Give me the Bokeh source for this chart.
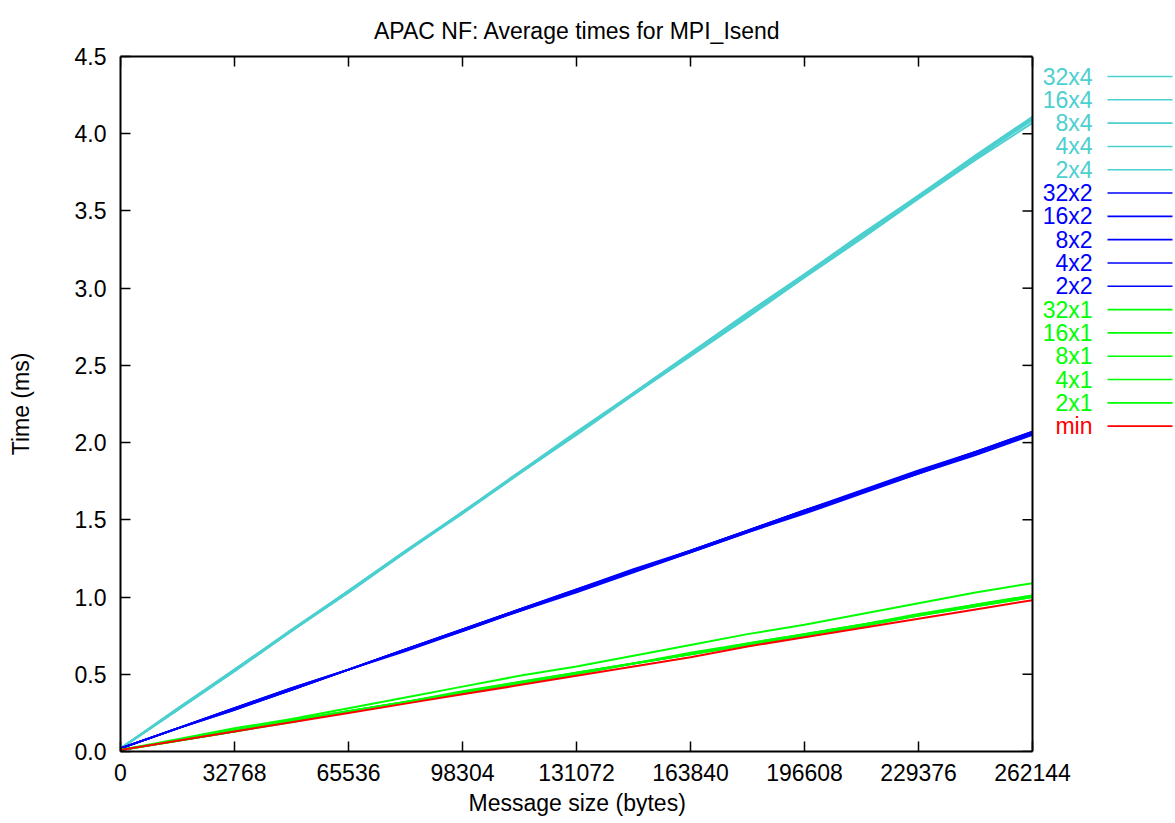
import math
from bokeh.plotting import figure
from bokeh.models import (Range1d, FixedTicker, NumeralTickFormatter, ColumnDataSource,
                          LinearAxis, Span, Title)
from bokeh.embed import file_html
from bokeh.resources import INLINE
from bokeh.core.properties import value

# ---------------- data ----------------
sizes = [0, 16384, 32768, 49152, 65536, 81920, 98304, 114688, 131072,
         147456, 163840, 180224, 196608, 212992, 229376, 245760, 262144]

series_names = ["32x4", "16x4", "8x4", "4x4", "2x4",
                "32x2", "16x2", "8x2", "4x2", "2x2",
                "32x1", "16x1", "8x1", "4x1", "2x1", "min"]

t_32x4 = [0.02, 0.27, 0.53, 0.78, 1.04, 1.30, 1.55, 1.81, 2.06, 2.32, 2.58, 2.83, 3.09, 3.34, 3.60, 3.85, 4.10]
t_16x4 = [0.02, 0.27, 0.52, 0.78, 1.03, 1.29, 1.55, 1.80, 2.06, 2.31, 2.57, 2.82, 3.08, 3.33, 3.59, 3.84, 4.09]
t_8x4  = [0.02, 0.28, 0.53, 0.79, 1.04, 1.30, 1.55, 1.81, 2.07, 2.32, 2.58, 2.84, 3.09, 3.35, 3.60, 3.86, 4.11]
t_4x4  = [0.02, 0.27, 0.53, 0.78, 1.04, 1.29, 1.55, 1.80, 2.06, 2.32, 2.57, 2.83, 3.08, 3.34, 3.59, 3.85, 4.10]
t_2x4  = [0.02, 0.27, 0.52, 0.78, 1.03, 1.29, 1.54, 1.80, 2.05, 2.31, 2.56, 2.81, 3.07, 3.32, 3.58, 3.83, 4.07]

t_32x2 = [0.02, 0.15, 0.28, 0.41, 0.53, 0.66, 0.79, 0.92, 1.05, 1.18, 1.30, 1.43, 1.56, 1.69, 1.82, 1.94, 2.07]
t_16x2 = [0.02, 0.15, 0.28, 0.40, 0.53, 0.66, 0.79, 0.92, 1.04, 1.17, 1.30, 1.43, 1.56, 1.68, 1.81, 1.94, 2.07]
t_8x2  = [0.02, 0.15, 0.28, 0.41, 0.53, 0.66, 0.79, 0.92, 1.05, 1.17, 1.30, 1.43, 1.56, 1.68, 1.81, 1.94, 2.06]
t_4x2  = [0.02, 0.15, 0.27, 0.40, 0.53, 0.66, 0.78, 0.91, 1.04, 1.17, 1.29, 1.42, 1.55, 1.68, 1.80, 1.93, 2.06]
t_2x2  = [0.02, 0.15, 0.27, 0.40, 0.53, 0.65, 0.78, 0.91, 1.03, 1.16, 1.29, 1.42, 1.54, 1.67, 1.80, 1.92, 2.05]

t_32x1 = [0.01, 0.08, 0.15, 0.21, 0.28, 0.35, 0.42, 0.49, 0.55, 0.62, 0.69, 0.76, 0.82, 0.89, 0.96, 1.03, 1.09]
t_16x1 = [0.01, 0.07, 0.14, 0.20, 0.26, 0.32, 0.39, 0.45, 0.51, 0.57, 0.64, 0.70, 0.76, 0.82, 0.89, 0.95, 1.01]
t_8x1  = [0.01, 0.07, 0.13, 0.20, 0.26, 0.32, 0.38, 0.45, 0.51, 0.57, 0.63, 0.70, 0.76, 0.82, 0.88, 0.95, 1.01]
t_4x1  = [0.01, 0.07, 0.13, 0.19, 0.26, 0.32, 0.38, 0.44, 0.50, 0.57, 0.63, 0.69, 0.75, 0.81, 0.88, 0.94, 1.00]
t_2x1  = [0.01, 0.07, 0.13, 0.20, 0.26, 0.32, 0.38, 0.44, 0.51, 0.57, 0.63, 0.69, 0.76, 0.82, 0.88, 0.94, 1.00]
t_min  = [0.01, 0.07, 0.13, 0.19, 0.25, 0.31, 0.37, 0.43, 0.49, 0.55, 0.61, 0.68, 0.74, 0.80, 0.86, 0.92, 0.98]

series_values = [t_32x4, t_16x4, t_8x4, t_4x4, t_2x4,
                 t_32x2, t_16x2, t_8x2, t_4x2, t_2x2,
                 t_32x1, t_16x1, t_8x1, t_4x1, t_2x1, t_min]

x_ticks = [0, 32768, 65536, 98304, 131072, 163840, 196608, 229376, 262144]
y_ticks = [0.0, 0.5, 1.0, 1.5, 2.0, 2.5, 3.0, 3.5, 4.0, 4.5]

# ---------------- styles / layout ----------------
CYAN, BLUE, GREEN, RED = "#4ccfcf", "#0000ff", "#00ff00", "#ff0000"
series_colors = [CYAN] * 5 + [BLUE] * 5 + [GREEN] * 5 + [RED]
FONT = "Liberation Sans"
FS = "23px"

W, H = 1175, 823
BL, BT, BB = 120, 56, 72
PLOT_W = 912            # pixel width of the data box (the key sits to its right)
FRAME_W = W - BL        # canvas frame runs to the right edge, to host the key
TITLE_W, XLAB_W = 405, 216   # rendered widths of the two centred texts (px)

XMAX, YMAX = x_ticks[-1], y_ticks[-1]
x_end = XMAX * FRAME_W / PLOT_W

p = figure(width=W, height=H, output_backend="svg", toolbar_location=None,
           x_range=Range1d(0, x_end), y_range=Range1d(0, YMAX),
           min_border_left=BL, min_border_right=0, min_border_top=BT, min_border_bottom=BB)
p.outline_line_color = None
p.grid.visible = False

# main title, centred over the data box
p.title = Title(text="APAC NF: Average times for MPI_Isend", align="left",
                offset=PLOT_W / 2 - TITLE_W / 2, text_font=FONT, text_font_size=FS,
                text_font_style="normal", text_color="black", standoff=26)

for ax in (p.xaxis[0], p.yaxis[0]):
    ax.axis_line_width = 2
    ax.axis_line_color = "black"
    ax.major_tick_in = 10
    ax.major_tick_out = 0
    ax.major_tick_line_width = 1.5
    ax.minor_tick_in = 0
    ax.minor_tick_out = 0
    ax.major_label_text_font = FONT
    ax.major_label_text_font_size = FS
    ax.major_label_text_color = "black"
    ax.axis_label_text_font = FONT
    ax.axis_label_text_font_size = FS
    ax.axis_label_text_font_style = "normal"
    ax.axis_label_text_color = "black"

p.xaxis[0].bounds = (0, XMAX)
p.xaxis[0].ticker = FixedTicker(ticks=x_ticks)
p.xaxis[0].formatter = NumeralTickFormatter(format="0")
p.xaxis[0].major_label_standoff = 12

# x-axis title, centred under the data box
xtitle = Title(text="Message size (bytes)", align="left", offset=PLOT_W / 2 - XLAB_W / 2,
               text_font=FONT, text_font_size=FS, text_font_style="normal",
               text_color="black", standoff=9)
p.add_layout(xtitle, "below")

p.yaxis[0].ticker = FixedTicker(ticks=y_ticks)
p.yaxis[0].formatter = NumeralTickFormatter(format="0.0")
p.yaxis[0].axis_label = "Time (ms)"
p.yaxis[0].major_label_standoff = 14
p.yaxis[0].axis_label_standoff = 38

# top border line (no ticks / labels on the axis itself)
top = LinearAxis(ticker=FixedTicker(ticks=[]), bounds=(0, XMAX))
top.axis_line_width = 2
top.axis_line_color = "black"
top.major_tick_in = 0
top.major_tick_out = 0
top.minor_tick_in = 0
top.minor_tick_out = 0
p.add_layout(top, "above")

# right border of the data box
p.add_layout(Span(location=XMAX, dimension="height", line_color="black", line_width=2))

# mirrored inward ticks on the top and right borders
p.ray(x=x_ticks, y=[YMAX] * len(x_ticks), length=10, length_units="screen",
      angle=-math.pi / 2, line_color="black", line_width=1.5)
p.ray(x=[XMAX] * len(y_ticks), y=y_ticks, length=10, length_units="screen",
      angle=math.pi, line_color="black", line_width=1.5)

for name, vals, col in zip(series_names, series_values, series_colors):
    p.line(sizes, vals, line_color=col, line_width=2)

# ---------------- key (right of the data box) ----------------
# extra ranges mapped so that one unit = one canvas pixel
p.extra_x_ranges["key"] = Range1d(BL, W)
p.extra_y_ranges["key"] = Range1d(H - BB, BT)

first_y, step = 76.0, 23.31
n = len(series_names)
ys = [first_y + i * step for i in range(n)]
src = ColumnDataSource(dict(name=series_names, y=ys, col=series_colors,
                            tx=[1092] * n, x0=[1107] * n, x1=[1172] * n))
p.text(x="tx", y="y", text="name", text_color="col", source=src,
       x_range_name="key", y_range_name="key",
       text_align="right", text_baseline="middle",
       text_font=value(FONT), text_font_size=value(FS))
p.segment(x0="x0", y0="y", x1="x1", y1="y", line_color="col", line_width=1.6,
          source=src, x_range_name="key", y_range_name="key")

open("out.html", "w").write(file_html(p, INLINE))
